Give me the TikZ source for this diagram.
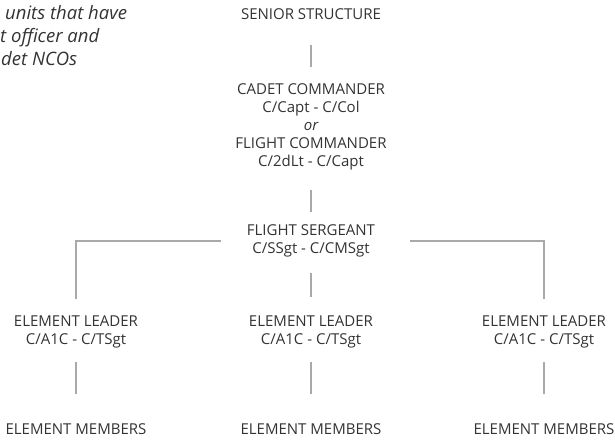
\documentclass[tikz,border=0pt]{standalone}
\usepackage{fontspec}
\setmainfont{Open Sans}
\definecolor{txt}{HTML}{333333}
\definecolor{ln}{HTML}{A7A9AC}
\begin{document}
\begin{tikzpicture}[x=1pt,y=-1pt,
  lbl/.style={text=txt, font=\fontsize{15}{18}\selectfont, align=center, inner sep=0pt},
  note/.style={text=txt, font=\fontsize{18.5}{23}\selectfont\itshape, inner sep=0pt, anchor=base west},
  link/.style={draw=ln, line width=2.5pt}]
\useasboundingbox (0,0) rectangle (615,441);

% side note, running off the left edge
\begin{scope}
  \clip (0,0) rectangle (615,441);
  \node[note] (n1) at (5,20) {units that have};
  \node[note] (n2) at (0,43) {t officer and};
  \node[note] (n3) at (1,66) {det NCOs};
\end{scope}

% chain of command
\node[lbl] (senior) at (311,14) {SENIOR STRUCTURE};
\node[lbl] (cmd) at (311,127) {CADET COMMANDER\\C/Capt - C/Col\\{\itshape or}\\FLIGHT COMMANDER\\C/2dLt - C/Capt};
\node[lbl] (fsgt) at (311,241) {FLIGHT SERGEANT\\C/SSgt - C/CMSgt};

\node[lbl] (el1) at (76,332) {ELEMENT LEADER\\C/A1C - C/TSgt};
\node[lbl] (el2) at (311,332) {ELEMENT LEADER\\C/A1C - C/TSgt};
\node[lbl] (el3) at (544,332) {ELEMENT LEADER\\C/A1C - C/TSgt};

\node[lbl] (em1) at (76,429) {ELEMENT MEMBERS};
\node[lbl] (em2) at (311,429) {ELEMENT MEMBERS};
\node[lbl] (em3) at (544,429) {ELEMENT MEMBERS};

% connectors, measured from the label centres
\draw[link, shorten <=31pt, shorten >=60pt] (senior.center) -- (cmd.center);
\draw[link, shorten <=63pt, shorten >=29pt] (cmd.center) -- (fsgt.center);
\draw[link, shorten <=32pt, shorten >=35pt] (fsgt.center) -- (el2.center);
\draw[link, shorten <=90pt, shorten >=33pt] (fsgt.center) -| (el1.center);
\draw[link, shorten <=99pt, shorten >=33pt] (fsgt.center) -| (el3.center);
\foreach \i in {1,2,3}
  \draw[link, shorten <=30pt, shorten >=35pt] (el\i.center) -- (em\i.center);
\end{tikzpicture}
\end{document}
